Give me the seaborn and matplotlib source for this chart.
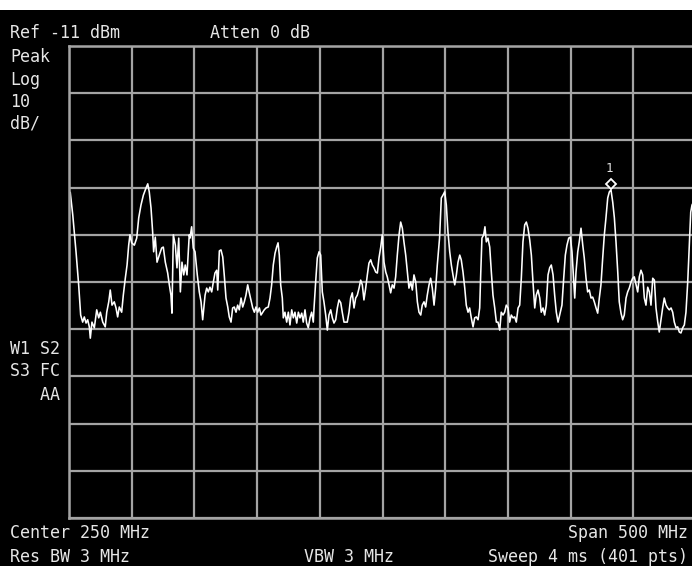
import matplotlib
matplotlib.use("Agg")
import matplotlib.pyplot as plt
import matplotlib.patches as patches
from matplotlib.transforms import offset_copy
import seaborn as sns

# trace: frequency (MHz) / level (dBm)
freq = [0, 1, 3.0, 5.6, 7.7, 9.3, 10.9, 12.2, 13.6, 14.9, 16.2, 17.0, 18.3, 20.2, 22.1, 23.7,
        25.0, 26.9, 28.9, 30.1, 31.7, 32.9, 34.3, 36.1, 37.5, 38.8, 40.1, 42.0, 43.3, 44.9,
        46.3, 47.6, 48.6, 50.0, 52.1, 54.0, 55.6, 57.4, 59.3, 61.4, 62.8, 64.0, 65.4, 66.7,
        67.5, 68.8, 70.2, 72.0, 73.9, 75.2, 76.8, 78.7, 80.0, 81.3, 82.1, 83.2, 84.8, 86.1,
        87.5, 88.8, 90.1, 91.5, 92.7, 94.1, 95.9, 96.5, 97.8, 99.1, 100.5, 102.3, 103.9,
        105.3, 106.6, 108.5, 109.8, 111.1, 112.4, 113.8, 115.1, 116.4, 117.8, 118.6, 119.9,
        121.2, 122.6, 123.8, 125.2, 126.6, 127.8, 129.2, 130.5, 131.8, 133.2, 134.5, 135.8,
        137.2, 138.5, 139.8, 141.1, 142.5, 143.8, 145.1, 146.5, 147.8, 149.1, 150.5, 151.8,
        153.1, 154.5, 155.7, 157.1, 158.9, 160.3, 161.6, 162.9, 164.3, 165.6, 166.7, 167.7,
        168.8, 170.1, 170.9, 172.2, 173.6, 174.9, 176.2, 177.6, 178.9, 180.2, 181.6, 182.9,
        184.2, 185.6, 186.8, 188.2, 189.5, 190.8, 192.2, 193.5, 194.8, 195.4, 196.7, 198.0,
        199.4, 200.7, 202.0, 203.3, 204.7, 206.0, 207.3, 208.7, 210.0, 211.3, 212.7, 214.0,
        215.3, 216.7, 217.9, 219.3, 220.7, 221.9, 223.3, 224.6, 225.9, 227.3, 228.6, 229.9,
        231.3, 232.6, 233.9, 235.2, 236.6, 237.9, 239.2, 240.6, 241.9, 243.2, 244.6, 245.9,
        247.2, 248.6, 249.8, 251.2, 252.6, 253.8, 255.2, 256.5, 257.8, 259.2, 260.5, 261.8,
        263.2, 264.5, 265.8, 267.1, 268.5, 269.8, 271.1, 272.5, 273.8, 275.1, 276.5, 277.8,
        279.1, 280.5, 281.7, 283.1, 284.4, 285.7, 287.1, 288.4, 289.7, 291.1, 292.4, 293.7,
        295.5, 296.9, 298.2, 299.6, 300.9, 302.2, 303.6, 304.9, 306.2, 307.6, 308.9, 310.2,
        311.6, 312.8, 314.2, 315.6, 316.8, 318.2, 319.5, 320.8, 322.2, 323.5, 324.8, 326.2,
        327.5, 328.3, 329.3, 330.7, 331.7, 332.8, 334.1, 335.5, 336.8, 338.1, 339.5, 340.8,
        342.1, 343.5, 344.7, 346.1, 347.4, 348.7, 350.1, 351.4, 352.7, 354.1, 355.4, 356.7,
        358.1, 359.4, 360.7, 362.0, 363.4, 364.7, 366.0, 367.4, 368.7, 370.0, 371.4, 372.6,
        374.0, 375.4, 376.6, 378.0, 379.3, 380.6, 382.0, 383.3, 384.6, 386.0, 387.3, 388.6,
        390.0, 391.3, 392.6, 393.1, 394.4, 395.8, 397.1, 398.5, 399.8, 401.1, 402.5, 403.3,
        404.3, 405.7, 406.9, 408.3, 409.7, 410.9, 412.3, 413.6, 414.9, 416.3, 417.6, 418.9,
        420.3, 421.6, 422.9, 424.2, 425.6, 426.9, 428.2, 429.6, 430.9, 432.2, 433.6, 434.9,
        436.2, 437.6, 438.8, 440.2, 441.5, 442.8, 444.2, 445.5, 446.8, 448.2, 449.5, 450.8,
        452.2, 453.5, 454.8, 456.1, 457.5, 458.8, 460.1, 461.5, 462.8, 464.1, 465.5, 466.8,
        468.1, 469.5, 470.7, 472.1, 473.4, 474.7, 476.1, 477.4, 478.7, 480.1, 481.4, 482.7,
        484.1, 485.4, 486.7, 488.0, 489.4, 490.7, 492.0, 493.4, 494.7, 495.8, 496.8, 500]
level = [-42.6, -42.0, -46.8, -54.6, -61.6, -68.0, -69.5, -68.4, -69.7, -69.0, -70.5, -72.9,
         -69.5, -70.7, -66.9, -68.6, -67.4, -69.5, -70.5, -67.4, -65.2, -62.7, -65.9, -65.2,
         -66.5, -68.4, -66.3, -67.4, -63.8, -60.2, -57.4, -53.2, -51.0, -52.7, -53.2, -51.7,
         -47.4, -44.7, -42.6, -41.1, -40.2, -41.9, -45.3, -50.4, -54.6, -51.5, -56.8, -55.3,
         -53.8, -53.6, -56.8, -59.1, -61.6, -63.8, -67.6, -51.0, -53.2, -58.0, -51.7, -63.1,
         -56.8, -59.5, -57.4, -59.5, -51.0, -51.7, -49.3, -53.8, -54.6, -59.5, -63.1, -65.2,
         -69.0, -63.8, -62.3, -63.1, -62.1, -63.1, -61.0, -59.1, -58.5, -62.7, -54.4, -54.2,
         -55.7, -59.5, -64.4, -66.3, -68.4, -69.5, -66.5, -66.3, -67.4, -65.9, -66.9, -64.4,
         -66.3, -65.2, -63.8, -61.6, -63.3, -64.8, -66.5, -67.4, -66.3, -67.4, -66.5, -68.0,
         -67.4, -66.9, -66.5, -66.3, -64.4, -61.6, -57.4, -54.9, -53.6, -52.7, -55.3, -61.6,
         -64.4, -68.6, -67.4, -69.5, -67.4, -70.1, -66.9, -68.6, -67.4, -69.7, -67.4, -68.6,
         -67.6, -69.5, -66.9, -69.7, -70.7, -68.6, -67.4, -69.5, -66.5, -61.0, -55.9, -54.6,
         -55.3, -63.1, -65.2, -68.0, -71.2, -68.0, -66.9, -68.6, -69.7, -69.0, -66.5, -64.8,
         -65.4, -67.4, -69.5, -69.5, -69.5, -67.4, -64.4, -63.3, -66.5, -64.4, -63.8, -62.3,
         -60.6, -61.6, -64.8, -62.3, -59.5, -57.0, -56.3, -57.4, -58.0, -58.9, -59.1, -55.9,
         -53.6, -51.0, -56.8, -58.9, -59.9, -61.6, -63.3, -61.6, -62.3, -59.9, -55.3, -51.0,
         -48.3, -49.6, -52.5, -55.3, -58.9, -62.3, -61.0, -62.7, -59.5, -61.0, -65.2, -67.4,
         -68.0, -65.9, -65.2, -66.3, -63.8, -61.6, -60.2, -62.3, -65.9, -62.3, -57.4, -51.7,
         -43.2, -42.6, -41.9, -44.7, -50.4, -54.6, -57.4, -59.5, -61.6, -59.5, -56.8, -55.3,
         -56.3, -58.9, -62.3, -65.9, -67.4, -66.5, -68.6, -70.5, -68.6, -68.4, -69.0, -66.5,
         -59.5, -51.7, -51.0, -49.3, -52.5, -51.7, -53.6, -58.9, -63.8, -66.5, -69.5, -69.5,
         -71.2, -67.4, -68.0, -67.4, -65.9, -66.5, -69.5, -68.0, -68.6, -68.4, -69.5, -66.5,
         -65.9, -60.2, -52.5, -48.9, -48.3, -49.6, -52.1, -55.3, -61.0, -66.5, -63.8, -62.7,
         -64.4, -67.4, -66.5, -68.0, -65.9, -59.5, -58.0, -57.4, -59.5, -63.8, -67.4, -69.5,
         -68.0, -66.5, -65.9, -60.6, -55.3, -53.2, -51.7, -51.5, -54.6, -61.0, -64.4, -58.9,
         -54.6, -52.5, -49.6, -53.2, -55.9, -60.2, -63.1, -62.7, -64.4, -64.2, -65.2, -66.5,
         -67.6, -64.4, -61.6, -55.9, -51.0, -47.4, -43.2, -41.9, -41.5, -44.1, -47.4, -52.5,
         -58.9, -65.2, -67.6, -69.0, -68.0, -64.4, -63.1, -62.3, -61.0, -60.2, -59.9, -61.6,
         -63.1, -59.9, -58.5, -59.5, -64.4, -65.9, -62.1, -63.1, -65.9, -60.2, -60.6, -66.5,
         -69.5, -71.6, -69.0, -66.5, -64.4, -65.9, -66.5, -66.9, -66.5, -67.4, -69.5, -70.7,
         -70.5, -71.6, -71.8, -70.7, -70.1, -67.4, -61.0, -53.2, -46.2, -44.7, -43.0]

marker_freq = 432.2
marker_level = -41.5

ref_level = -11
db_per_div = 10
center_mhz = 250
span_mhz = 500

W, H = 692, 566
fig = plt.figure(figsize=(W / 100, H / 100), dpi=100)
sns.set_style("dark", {"axes.facecolor": "black", "figure.facecolor": "black"})
plt.rcParams['font.family'] = ['DejaVu Sans Mono', 'DejaVu Sans']
fig.set_facecolor("black")

# thin white strip at the very top of the screenshot
fig.patches.append(patches.Rectangle((0, 1 - 10 / H), 1, 10 / H, transform=fig.transFigure,
                                     facecolor="white", edgecolor="none"))

ax = fig.add_axes([69 / W, 48 / H, 627 / W, 472 / H])
ax.set_facecolor("black")

sns.lineplot(x=freq, y=level, ax=ax, color="white", lw=1.15, sort=False)

ax.set_xlim(center_mhz - span_mhz / 2, center_mhz + span_mhz / 2)
ax.set_ylim(ref_level - 10 * db_per_div, ref_level)
ax.set_xticks(range(0, 501, 50))
ax.set_yticks(range(-111, -10, 10))
ax.set_xticklabels([])
ax.set_yticklabels([])
ax.tick_params(length=0)
ax.grid(True, color="#a4a4a4", lw=1.6)
ax.set_axisbelow(True)
for s in ax.spines.values():
    s.set_color("#a4a4a4")
    s.set_linewidth(1.8)
ax.set_xlabel("")
ax.set_ylabel("")

# marker 1
tr = offset_copy(ax.transData, fig=fig, x=0, y=6, units="dots")
ax.plot([marker_freq], [marker_level], marker="D", ms=5.6, mfc="black", mec="white",
        mew=1.3, transform=tr, clip_on=False)
ax.annotate("1", (marker_freq, marker_level), xytext=(-2, 21), textcoords="offset pixels",
            color="#e0e0e0", fontsize=9, ha="center", va="center")

txt = dict(color="#e6e6e6", fontsize=12, va="center")


def put(x, y, s, **kw):
    fig.text(x / W, 1 - y / H, s, **{**txt, **kw})


put(10, 33, "Ref -11 dBm")
put(210, 33, "Atten 0 dB")
put(10, 57, "Peak")
put(10, 80, "Log")
put(10, 102, "10")
put(10, 123, "dB/")
put(10, 349, "W1 S2")
put(10, 371, "S3 FC")
put(10, 395, "   AA")
put(10, 533, "Center 250 MHz")
put(10, 557, "Res BW 3 MHz")
put(304, 557, "VBW 3 MHz")
put(688, 533, "Span 500 MHz", ha="right")
put(688, 557, "Sweep 4 ms (401 pts)", ha="right")

fig.savefig("out.png", dpi=100, facecolor="black")
